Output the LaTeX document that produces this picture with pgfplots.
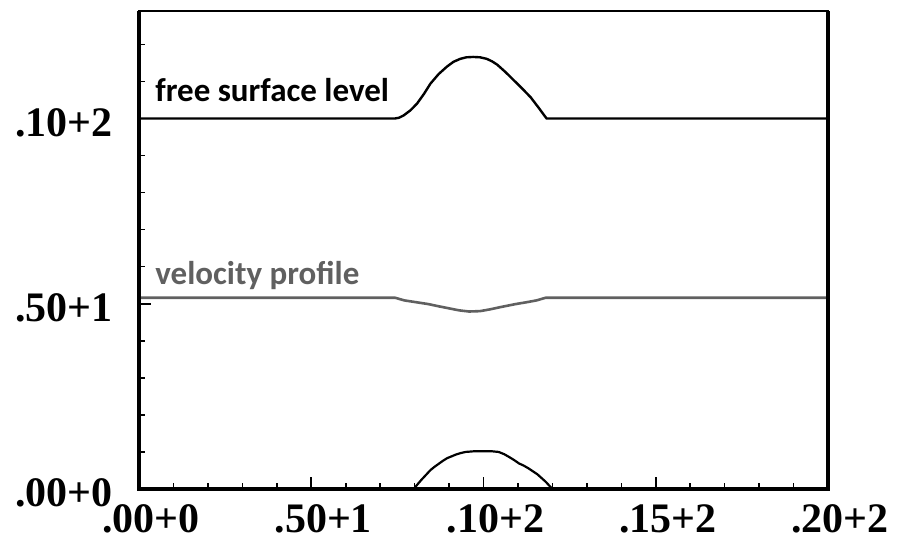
\documentclass[border=0pt]{standalone}
\usepackage{pgfplots}
\pgfplotsset{compat=1.18}
\usepackage{fontspec}
\setmainfont{Carlito}
\newfontfamily\tickfont{Liberation Serif}
\definecolor{profgray}{RGB}{96,96,96}

\begin{document}
\begin{tikzpicture}
\useasboundingbox (0bp,0bp) rectangle (897bp,541bp);
\begin{axis}[
  at={(139bp,52bp)}, anchor=south west,
  scale only axis, width=689bp, height=478bp,
  xmin=0, xmax=20, ymin=0, ymax=12.9,
  xtick={0,5,10,15,20}, minor xtick={1,2,3,4,6,7,8,9,11,12,13,14,16,17,18,19},
  ytick={0,5,10}, minor ytick={1,2,3,4,6,7,8,9,11,12},
  xticklabels={.00+0,.50+1,.10+2,.15+2,.20+2},
  yticklabels={.00+0,.50+1,.10+2},
  xtick pos=left, ytick pos=left, tick align=inside,
  major tick length=12bp, minor tick length=6bp,
  every tick/.style={black, line width=1.6bp},
  axis line style={line width=1.2bp},
  tick label style={font=\tickfont\bfseries\fontsize{42bp}{42bp}\selectfont, inner sep=0pt},
  xticklabel style={anchor=north, yshift=-15bp, xshift=12bp},
  yticklabel style={anchor=east, xshift=-26bp, yshift=-4bp},
  clip=false,
]
% free surface level
\addplot[black, line width=2.4bp, line join=round] coordinates {
  (0,10) (7.44,10) (7.55,10.02) (7.68,10.08) (7.88,10.22) (8.07,10.40)
  (8.27,10.66) (8.46,10.94) (8.7,11.20) (8.94,11.40) (9.13,11.53)
  (9.33,11.61) (9.5,11.65) (9.7,11.66) (9.9,11.65) (10.09,11.61)
  (10.25,11.54) (10.40,11.45) (10.64,11.25) (10.88,11.03) (11.12,10.81)
  (11.37,10.57) (11.6,10.29) (11.75,10.1) (11.83,10.0) (20,10)
};
% velocity profile
\addplot[profgray, line width=2.6bp, line join=round] coordinates {
  (0,5.16) (7.44,5.16) (7.7,5.09) (8.05,5.04) (8.4,4.99) (8.7,4.93)
  (8.97,4.88) (9.3,4.82) (9.58,4.79) (9.9,4.80) (10.2,4.85) (10.55,4.92)
  (10.93,4.99) (11.25,5.04) (11.54,5.09) (11.8,5.16) (20,5.16)
};
% bed obstacle
\addplot[black, line width=2.2bp, line join=round] coordinates {
  (7.97,0) (8.08,0.12) (8.2,0.25) (8.33,0.38) (8.46,0.51) (8.58,0.60)
  (8.7,0.68) (8.82,0.76) (8.94,0.83) (9.07,0.88) (9.2,0.93) (9.34,0.97)
  (9.48,1.0) (9.75,1.02) (10.0,1.02) (10.22,1.02) (10.44,1.0) (10.6,0.94)
  (10.75,0.86) (10.89,0.78) (11.03,0.69) (11.17,0.63) (11.3,0.56)
  (11.43,0.48) (11.56,0.40) (11.68,0.30) (11.8,0.2) (11.9,0.1) (12.0,0)
};
\node[anchor=base west, inner sep=0pt, font=\bfseries\fontsize{33bp}{33bp}\selectfont]
  at (axis cs:0.47,10.45) {free surface level};
\node[anchor=base west, inner sep=0pt, text=profgray, font=\bfseries\fontsize{33bp}{33bp}\selectfont]
  at (axis cs:0.47,5.51) {velocity profile};
\draw[line width=4bp] (rel axis cs:0,1) -- (rel axis cs:0,0) -- (rel axis cs:1,0) -- (rel axis cs:1,1);
\end{axis}
\end{tikzpicture}
\end{document}
